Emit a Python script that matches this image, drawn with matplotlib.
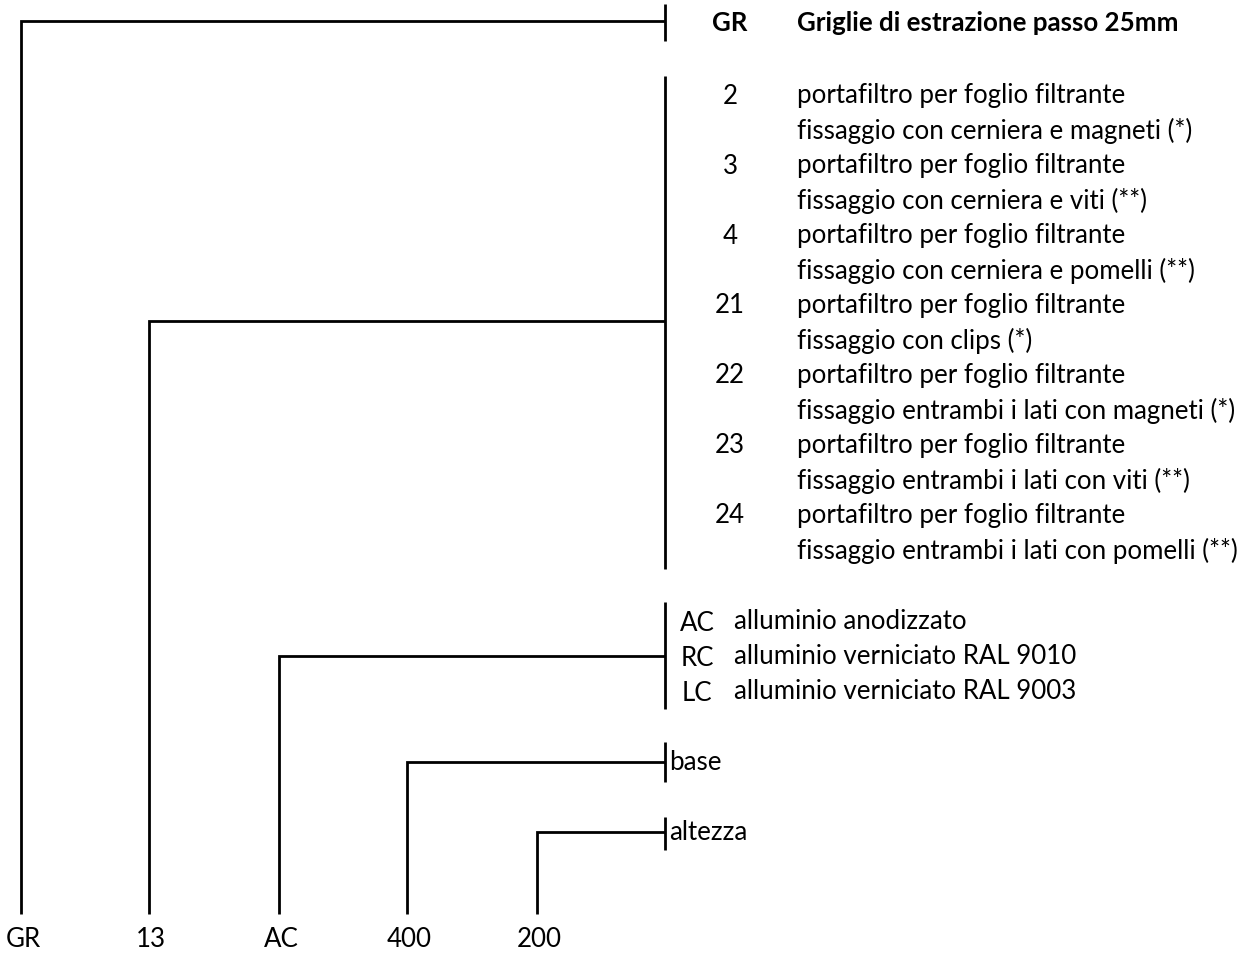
"""
Product code key: GR grid, type, finish, base and height.
"""

import matplotlib.pyplot as plt

W, H = 1248, 954

# bottom code labels and the x of each drop line
code_labels = ["GR", "13", "AC", "400", "200"]
code_x = [21, 149, 279, 407, 537]
# y where each branch meets its bracket, and bracket extents
branch_y = [22, 322, 657, 763, 833]
bracket_top = [5, 77, 603, 743, 818]
bracket_bottom = [42, 570, 710, 783, 851]
bracket_x = 665
line_bottom = 915

header_code = "GR"
header_text = "Griglie di estrazione passo 25mm"

type_codes = ["2", "3", "4", "21", "22", "23", "24"]
type_line1 = ["portafiltro per foglio filtrante"] * 7
type_line2 = [
    "fissaggio con cerniera e magneti (*)",
    "fissaggio con cerniera e viti (**)",
    "fissaggio con cerniera e pomelli (**)",
    "fissaggio con clips (*)",
    "fissaggio entrambi i lati con magneti (*)",
    "fissaggio entrambi i lati con viti (**)",
    "fissaggio entrambi i lati con pomelli (**)",
]

finish_codes = ["AC", "RC", "LC"]
finish_text = [
    "alluminio anodizzato",
    "alluminio verniciato RAL 9010",
    "alluminio verniciato RAL 9003",
]

dim_labels = ["base", "altezza"]

plt.rcParams["font.family"] = ["Lato", "DejaVu Sans"]
FS = 18.6

fig = plt.figure(figsize=(W / 100, H / 100), dpi=100)
ax = fig.add_axes([0, 0, 1, 1])
ax.set_xlim(0, W)
ax.set_ylim(H, 0)
ax.axis("off")

lw = 2.0
for x, yb, yt, ybot in zip(code_x, branch_y, bracket_top, bracket_bottom):
    ax.plot([x, x, bracket_x], [line_bottom, yb, yb], color="black", lw=lw,
            solid_joinstyle="miter", solid_capstyle="butt")
    ax.plot([bracket_x, bracket_x], [yt, ybot], color="black", lw=lw,
            solid_capstyle="butt")

for lab, x in zip(code_labels, code_x):
    ax.text(x + 2, 940, lab, ha="center", va="center", fontsize=FS)

# header
ax.text(730, 23, header_code, ha="center", va="center", fontsize=FS,
        fontweight="bold")
ax.text(797, 23, header_text, ha="left", va="center", fontsize=FS,
        fontweight="bold")

# types
for i, (c, l1, l2) in enumerate(zip(type_codes, type_line1, type_line2)):
    y = 96 + 70 * i
    ax.text(730, y, c, ha="center", va="center", fontsize=FS)
    ax.text(797, y, l1, ha="left", va="center", fontsize=FS)
    ax.text(797, y + 35, l2, ha="left", va="center", fontsize=FS)

# finishes
for i, (c, t) in enumerate(zip(finish_codes, finish_text)):
    y = 622 + 35 * i
    ax.text(697, y + 2, c, ha="center", va="center", fontsize=FS)
    ax.text(734, y, t, ha="left", va="center", fontsize=FS)

# dimensions
for lab, y in zip(dim_labels, branch_y[3:]):
    ax.text(669, y, lab, ha="left", va="center", fontsize=FS)

fig.savefig("out.png", dpi=100)
